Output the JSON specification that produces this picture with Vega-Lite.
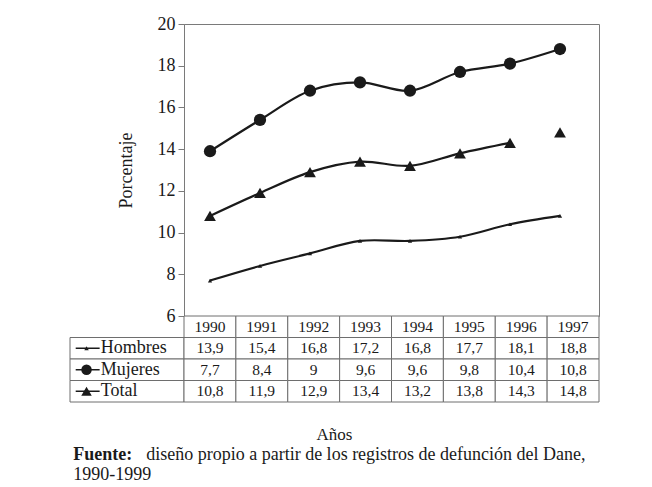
{
  "$schema": "https://vega.github.io/schema/vega-lite/v6.json",
  "padding": {"left": 69, "top": 14, "right": 0, "bottom": 0},
  "background": "white",
  "datasets": {
    "tasas": [
      {"serie": "Hombres", "anio": "1990", "valor": 13.9},
      {"serie": "Hombres", "anio": "1991", "valor": 15.4},
      {"serie": "Hombres", "anio": "1992", "valor": 16.8},
      {"serie": "Hombres", "anio": "1993", "valor": 17.2},
      {"serie": "Hombres", "anio": "1994", "valor": 16.8},
      {"serie": "Hombres", "anio": "1995", "valor": 17.7},
      {"serie": "Hombres", "anio": "1996", "valor": 18.1},
      {"serie": "Hombres", "anio": "1997", "valor": 18.8},
      {"serie": "Mujeres", "anio": "1990", "valor": 7.7},
      {"serie": "Mujeres", "anio": "1991", "valor": 8.4},
      {"serie": "Mujeres", "anio": "1992", "valor": 9},
      {"serie": "Mujeres", "anio": "1993", "valor": 9.6},
      {"serie": "Mujeres", "anio": "1994", "valor": 9.6},
      {"serie": "Mujeres", "anio": "1995", "valor": 9.8},
      {"serie": "Mujeres", "anio": "1996", "valor": 10.4},
      {"serie": "Mujeres", "anio": "1997", "valor": 10.8},
      {"serie": "Total", "anio": "1990", "valor": 10.8},
      {"serie": "Total", "anio": "1991", "valor": 11.9},
      {"serie": "Total", "anio": "1992", "valor": 12.9},
      {"serie": "Total", "anio": "1993", "valor": 13.4},
      {"serie": "Total", "anio": "1994", "valor": 13.2},
      {"serie": "Total", "anio": "1995", "valor": 13.8},
      {"serie": "Total", "anio": "1996", "valor": 14.3},
      {"serie": "Total", "anio": "1997", "valor": 14.8}
    ],
    "pie": [{"k": 1}]
  },
  "config": {
    "locale": {"number": {"decimal": ",", "thousands": ".", "grouping": [3], "currency": ["", ""]}},
    "font": "Liberation Serif",
    "view": {"stroke": null},
    "text": {"font": "Liberation Serif", "color": "#1a1a1a"},
    "axis": {"labelFont": "Liberation Serif", "titleFont": "Liberation Serif"}
  },
  "spacing": 23,
  "vconcat": [
    {
      "columns": 2,
      "spacing": 0,
      "bounds": "flush",
      "concat": [
        {
          "width": 114,
          "height": 292,
          "data": {"values": []},
          "mark": "point"
        },
        {
          "width": 415,
          "height": 292,
          "data": {"name": "tasas"},
          "view": {"stroke": "#7a7a7a"},
          "encoding": {
            "x": {"field": "anio", "type": "ordinal", "scale": {"type": "point", "padding": 0.65, "align": 0.4}, "axis": null},
            "y": {
              "field": "valor", "type": "quantitative",
              "scale": {"domain": [6, 20], "nice": false, "zero": false},
              "axis": {
                "values": [6, 8, 10, 12, 14, 16, 18, 20], "title": "Porcentaje", "grid": false,
                "domainColor": "#7a7a7a", "tickColor": "#7a7a7a", "tickSize": 6,
                "labelFontSize": 18, "labelColor": "#1a1a1a", "labelPadding": 3,
                "titleFontSize": 18, "titleFontWeight": "normal", "titleColor": "#1a1a1a", "titlePadding": 22
              }
            }
          },
          "layer": [
            {
              "transform": [{"filter": "!(datum.serie == 'Total' && datum.anio == '1997')"}],
              "mark": {"type": "line", "interpolate": "catmull-rom", "color": "#1a1a1a", "strokeWidth": 2.2},
              "encoding": {"detail": {"field": "serie"}}
            },
            {
              "transform": [{"filter": "datum.serie == 'Hombres'"}],
              "mark": {"type": "point", "shape": "circle", "size": 150, "filled": true, "color": "#1a1a1a", "opacity": 1}
            },
            {
              "transform": [{"filter": "datum.serie == 'Mujeres'"}],
              "mark": {"type": "point", "shape": "triangle-up", "size": 18, "filled": true, "color": "#1a1a1a", "opacity": 1}
            },
            {
              "transform": [{"filter": "datum.serie == 'Total'"}],
              "mark": {"type": "point", "shape": "triangle-up", "size": 140, "filled": true, "color": "#1a1a1a", "opacity": 1}
            }
          ]
        },
        {
          "width": 114,
          "height": 86,
          "data": {"name": "tasas"},
          "transform": [{"filter": "datum.anio == '1990'"}],
          "encoding": {
            "y": {"field": "serie", "type": "nominal", "scale": {"type": "band", "domain": ["encabezado", "Hombres", "Mujeres", "Total"], "paddingInner": 0, "paddingOuter": 0}, "axis": null}
          },
          "layer": [
            {"mark": {"type": "rect", "fill": "white", "stroke": "#6e6e6e", "strokeWidth": 1}},
            {
              "mark": {"type": "rule", "color": "#1a1a1a", "strokeWidth": 1.5},
              "encoding": {
                "x": {"datum": 0.05, "type": "quantitative", "scale": {"domain": [0, 1]}, "axis": null},
                "x2": {"datum": 0.26}
              }
            },
            {
              "transform": [{"filter": "datum.serie == 'Hombres'"}],
              "mark": {"type": "point", "shape": "triangle-up", "size": 20, "filled": true, "color": "#1a1a1a", "opacity": 1},
              "encoding": {"x": {"datum": 0.145, "type": "quantitative"}}
            },
            {
              "transform": [{"filter": "datum.serie == 'Mujeres'"}],
              "mark": {"type": "point", "shape": "circle", "size": 110, "filled": true, "color": "#1a1a1a", "opacity": 1},
              "encoding": {"x": {"datum": 0.145, "type": "quantitative"}}
            },
            {
              "transform": [{"filter": "datum.serie == 'Total'"}],
              "mark": {"type": "point", "shape": "triangle-up", "size": 110, "filled": true, "color": "#1a1a1a", "opacity": 1},
              "encoding": {"x": {"datum": 0.145, "type": "quantitative"}}
            },
            {
              "mark": {"type": "text", "align": "left", "baseline": "middle", "fontSize": 18},
              "encoding": {
                "x": {"datum": 0.27, "type": "quantitative"},
                "text": {"field": "serie", "type": "nominal"}
              }
            }
          ]
        },
        {
          "width": 415,
          "height": 86,
          "data": {"name": "tasas"},
          "encoding": {
            "x": {"field": "anio", "type": "ordinal", "scale": {"type": "band", "paddingInner": 0, "paddingOuter": 0}, "axis": null},
            "y": {"field": "serie", "type": "nominal", "scale": {"type": "band", "domain": ["encabezado", "Hombres", "Mujeres", "Total"], "paddingInner": 0, "paddingOuter": 0}, "axis": null}
          },
          "layer": [
            {"mark": {"type": "rect", "fill": "white", "stroke": "#6e6e6e", "strokeWidth": 1}},
            {
              "transform": [{"filter": "datum.serie == 'Hombres'"}],
              "mark": {"type": "rect", "fill": "white", "stroke": "#6e6e6e", "strokeWidth": 1},
              "encoding": {"y": {"datum": "encabezado", "type": "nominal"}}
            },
            {
              "mark": {"type": "text", "fontSize": 15.5, "baseline": "middle"},
              "encoding": {"text": {"field": "valor", "type": "quantitative", "format": "~g"}}
            },
            {
              "transform": [{"filter": "datum.serie == 'Hombres'"}],
              "mark": {"type": "text", "fontSize": 15.5, "baseline": "middle"},
              "encoding": {
                "y": {"datum": "encabezado", "type": "nominal"},
                "text": {"field": "anio", "type": "nominal"}
              }
            }
          ]
        }
      ]
    },
    {
      "width": 529,
      "height": 40,
      "data": {"name": "pie"},
      "layer": [
        {
          "mark": {"type": "text", "text": "Años", "fontSize": 17, "align": "center", "baseline": "middle"},
          "encoding": {
            "x": {"datum": 0.5, "type": "quantitative", "scale": {"domain": [0, 1]}, "axis": null},
            "y": {"datum": "Años", "type": "nominal", "scale": {"type": "point", "domain": ["Años", "Fuente", "1990-1999"], "padding": 0}, "axis": null}
          }
        },
        {
          "mark": {"type": "text", "text": "Fuente:", "fontSize": 18, "fontWeight": "bold", "align": "left", "baseline": "middle"},
          "encoding": {
            "x": {"datum": 0.006, "type": "quantitative"},
            "y": {"datum": "Fuente", "type": "nominal"}
          }
        },
        {
          "mark": {"type": "text", "text": "diseño propio a partir de los registros de defunción del Dane,", "fontSize": 18, "align": "left", "baseline": "middle"},
          "encoding": {
            "x": {"datum": 0.144, "type": "quantitative"},
            "y": {"datum": "Fuente", "type": "nominal"}
          }
        },
        {
          "mark": {"type": "text", "text": "1990-1999", "fontSize": 18, "align": "left", "baseline": "middle"},
          "encoding": {
            "x": {"datum": 0.006, "type": "quantitative"},
            "y": {"datum": "1990-1999", "type": "nominal"}
          }
        }
      ]
    }
  ]
}
